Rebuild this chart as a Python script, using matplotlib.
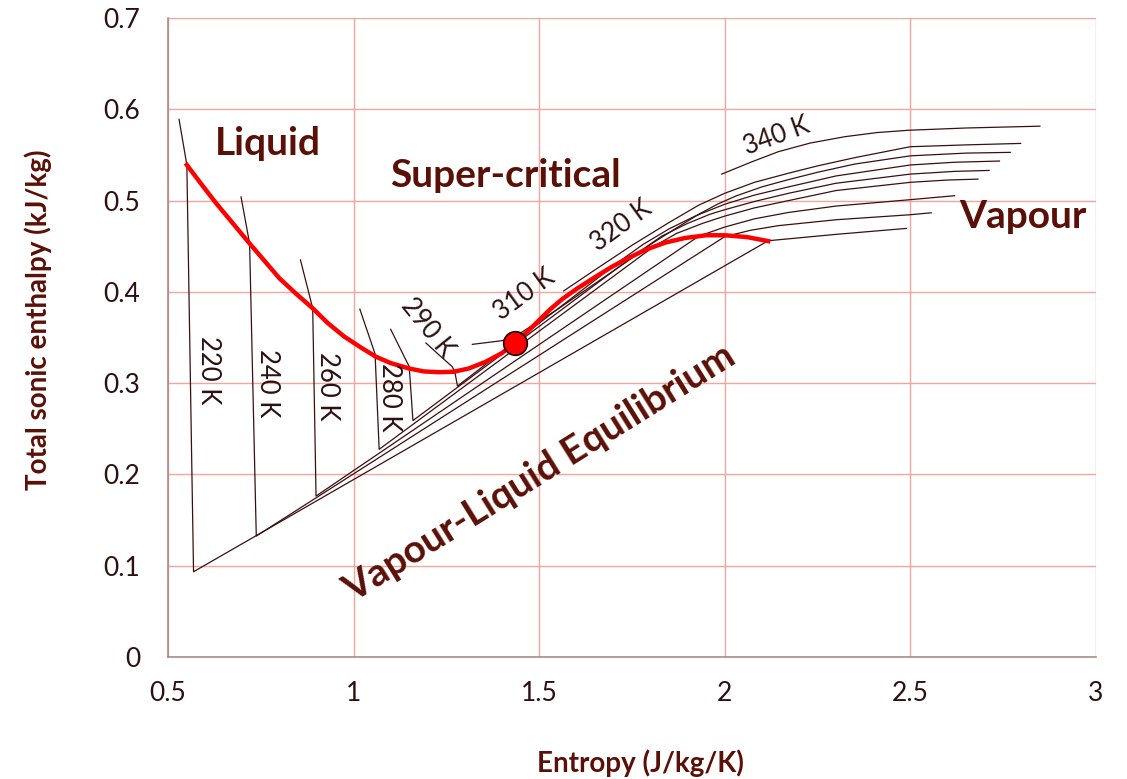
import matplotlib
matplotlib.use("Agg")
import matplotlib.pyplot as plt
from matplotlib.ticker import FormatStrFormatter

OUT = "out.png"

# Isotherms: entropy (J/kg/K) and total sonic enthalpy (kJ/kg)
S_220 = [0.530, 0.551, 0.569, 2.117, 2.300, 2.489]
H_220 = [0.589, 0.539, 0.0934, 0.456, 0.463, 0.4695]

S_240 = [0.697, 0.720, 0.738, 2.000, 2.070, 2.144, 2.300, 2.500, 2.556]
H_240 = [0.504, 0.453, 0.1325, 0.4605, 0.4675, 0.4725, 0.479, 0.4845, 0.4866]

S_260 = [0.857, 0.890, 0.899, 1.930, 2.000, 2.080, 2.172, 2.300, 2.500, 2.619]
H_260 = [0.435, 0.382, 0.1763, 0.461, 0.471, 0.480, 0.487, 0.494, 0.501, 0.5053]

S_280 = [1.017, 1.058, 1.069, 1.810, 1.870, 1.940, 2.000, 2.080, 2.172, 2.300,
         2.500, 2.600, 2.682]
H_280 = [0.381, 0.332, 0.2275, 0.450, 0.464, 0.475, 0.483, 0.492, 0.500, 0.511,
         0.520, 0.5225, 0.5235]

S_285 = [1.100, 1.150, 1.160, 1.770, 1.830, 1.900, 1.960, 2.000, 2.080, 2.172,
         2.300, 2.500, 2.620, 2.712]
H_285 = [0.359, 0.318, 0.259, 0.444, 0.461, 0.475, 0.485, 0.490, 0.499, 0.508,
         0.519, 0.529, 0.532, 0.533]

S_290 = [1.195, 1.230, 1.266, 1.273, 1.280, 1.715, 1.780, 1.850, 1.920, 2.000,
         2.080, 2.172, 2.300, 2.500, 2.620, 2.740]
H_290 = [0.344, 0.331, 0.318, 0.312, 0.2968, 0.433, 0.452, 0.469, 0.483, 0.496,
         0.506, 0.515, 0.527, 0.539, 0.542, 0.5433]

S_310 = [1.320, 1.400, 1.450, 1.550, 1.650, 1.750, 1.800, 1.870, 1.930, 1.980,
         2.030, 2.100, 2.172, 2.250, 2.350, 2.500, 2.650, 2.769]
H_310 = [0.3425, 0.3465, 0.355, 0.381, 0.409, 0.437, 0.452, 0.470, 0.485, 0.496,
         0.505, 0.515, 0.523, 0.531, 0.540, 0.549, 0.552, 0.5528]

S_320 = [1.566, 1.650, 1.750, 1.850, 1.930, 2.000, 2.080, 2.172, 2.250, 2.350,
         2.500, 2.650, 2.797]
H_320 = [0.401, 0.424, 0.451, 0.476, 0.495, 0.508, 0.520, 0.530, 0.538, 0.547,
         0.559, 0.561, 0.5626]

S_340 = [1.992, 2.070, 2.144, 2.230, 2.324, 2.410, 2.494, 2.650, 2.849]
H_340 = [0.529, 0.542, 0.5535, 0.563, 0.570, 0.5745, 0.577, 0.5795, 0.5815]

# sonic saturation curve and critical point
SAT_S = [0.551, 0.590, 0.630, 0.675, 0.720, 0.760, 0.800, 0.845, 0.890, 0.930,
         0.975, 1.020, 1.060, 1.100, 1.150, 1.190, 1.230, 1.270, 1.310, 1.356,
         1.400, 1.435, 1.470, 1.500, 1.530, 1.562, 1.600, 1.650, 1.696, 1.740,
         1.786, 1.840, 1.893, 1.950, 2.000, 2.060, 2.117]
SAT_H = [0.539, 0.518, 0.497, 0.475, 0.453, 0.434, 0.415, 0.398, 0.382, 0.366,
         0.351, 0.339, 0.329, 0.322, 0.316, 0.3128, 0.312, 0.3125, 0.316, 0.3234,
         0.333, 0.344, 0.357, 0.369, 0.381, 0.392, 0.403, 0.416, 0.4275, 0.437,
         0.446, 0.454, 0.459, 0.462, 0.462, 0.460, 0.4556]
CRIT_S, CRIT_H = 1.435, 0.3435

# isotherm labels: text, s, h, angle
ISO_LABELS = [
    ("220 K", 0.610, 0.314, -90),
    ("240 K", 0.769, 0.300, -90),
    ("260 K", 0.930, 0.297, -90),
    ("280 K", 1.096, 0.285, -90),
    ("290 K", 1.198, 0.361, -51),
    ("310 K", 1.459, 0.397, 36),
    ("320 K", 1.720, 0.472, 36),
    ("340 K", 2.139, 0.571, 20),
]

# phase region labels: text, s, h, angle
REGION_LABELS = [
    ("Liquid", 0.769, 0.563, 0),
    ("Super-critical", 1.408, 0.527, 0),
    ("Vapour", 2.803, 0.483, 0),
    ("Vapour-Liquid Equilibrium", 1.500, 0.2015, 32),
]

DARK = "#5a1006"
LINE = "#3c0f0f"
TXT = "#2e1010"

plt.rcParams["font.family"] = ["Lato", "DejaVu Sans"]

fig = plt.figure(figsize=(11.27, 7.79), dpi=100)
ax = fig.add_axes([0.149, 0.1566, 0.8235, 0.8203])

for s, h in [(S_220, H_220), (S_240, H_240), (S_260, H_260), (S_280, H_280),
             (S_285, H_285), (S_290, H_290), (S_310, H_310), (S_320, H_320),
             (S_340, H_340)]:
    ax.plot(s, h, color=LINE, lw=0.9, zorder=3)

ax.plot(SAT_S, SAT_H, color="#ff0000", lw=3.2, zorder=4, solid_joinstyle="round")
ax.plot([CRIT_S], [CRIT_H], "o", ms=17, mfc="#ff0000", mec="#1a0000", mew=1.2, zorder=5)

for txt, s, h, ang in ISO_LABELS:
    ax.text(s, h, txt, rotation=ang, rotation_mode="anchor", ha="center", va="center",
            fontsize=18.5, color=TXT, zorder=6)

for txt, s, h, ang in REGION_LABELS:
    ax.text(s, h, txt, rotation=ang, rotation_mode="anchor", ha="center", va="center",
            fontsize=28, fontweight="bold", color=DARK, zorder=6)

ax.set_xlim(0.5, 3)
ax.set_ylim(0, 0.7)
ax.set_xticks([0.5, 1, 1.5, 2, 2.5, 3])
ax.set_yticks([0, 0.1, 0.2, 0.3, 0.4, 0.5, 0.6, 0.7])
ax.xaxis.set_major_formatter(FormatStrFormatter("%g"))
ax.yaxis.set_major_formatter(FormatStrFormatter("%g"))
ax.tick_params(length=0, labelsize=19, labelcolor=TXT)
ax.tick_params(axis="x", pad=17)
ax.tick_params(axis="y", pad=20)
ax.grid(True, color="#f7a59c", lw=1.0)
ax.set_axisbelow(True)
for side in ("top", "right"):
    ax.spines[side].set_visible(False)
for side in ("left", "bottom"):
    ax.spines[side].set_color("#a88c8c")
    ax.spines[side].set_linewidth(1.2)

ax.set_xlabel("Entropy (J/kg/K)", fontsize=20, fontweight="bold", color=DARK)
ax.set_ylabel("Total sonic enthalpy (kJ/kg)", fontsize=20, fontweight="bold", color=DARK)
ax.xaxis.set_label_coords(0.509, -0.145)
ax.yaxis.set_label_coords(-0.125, 0.527)

fig.savefig(OUT, dpi=100)
